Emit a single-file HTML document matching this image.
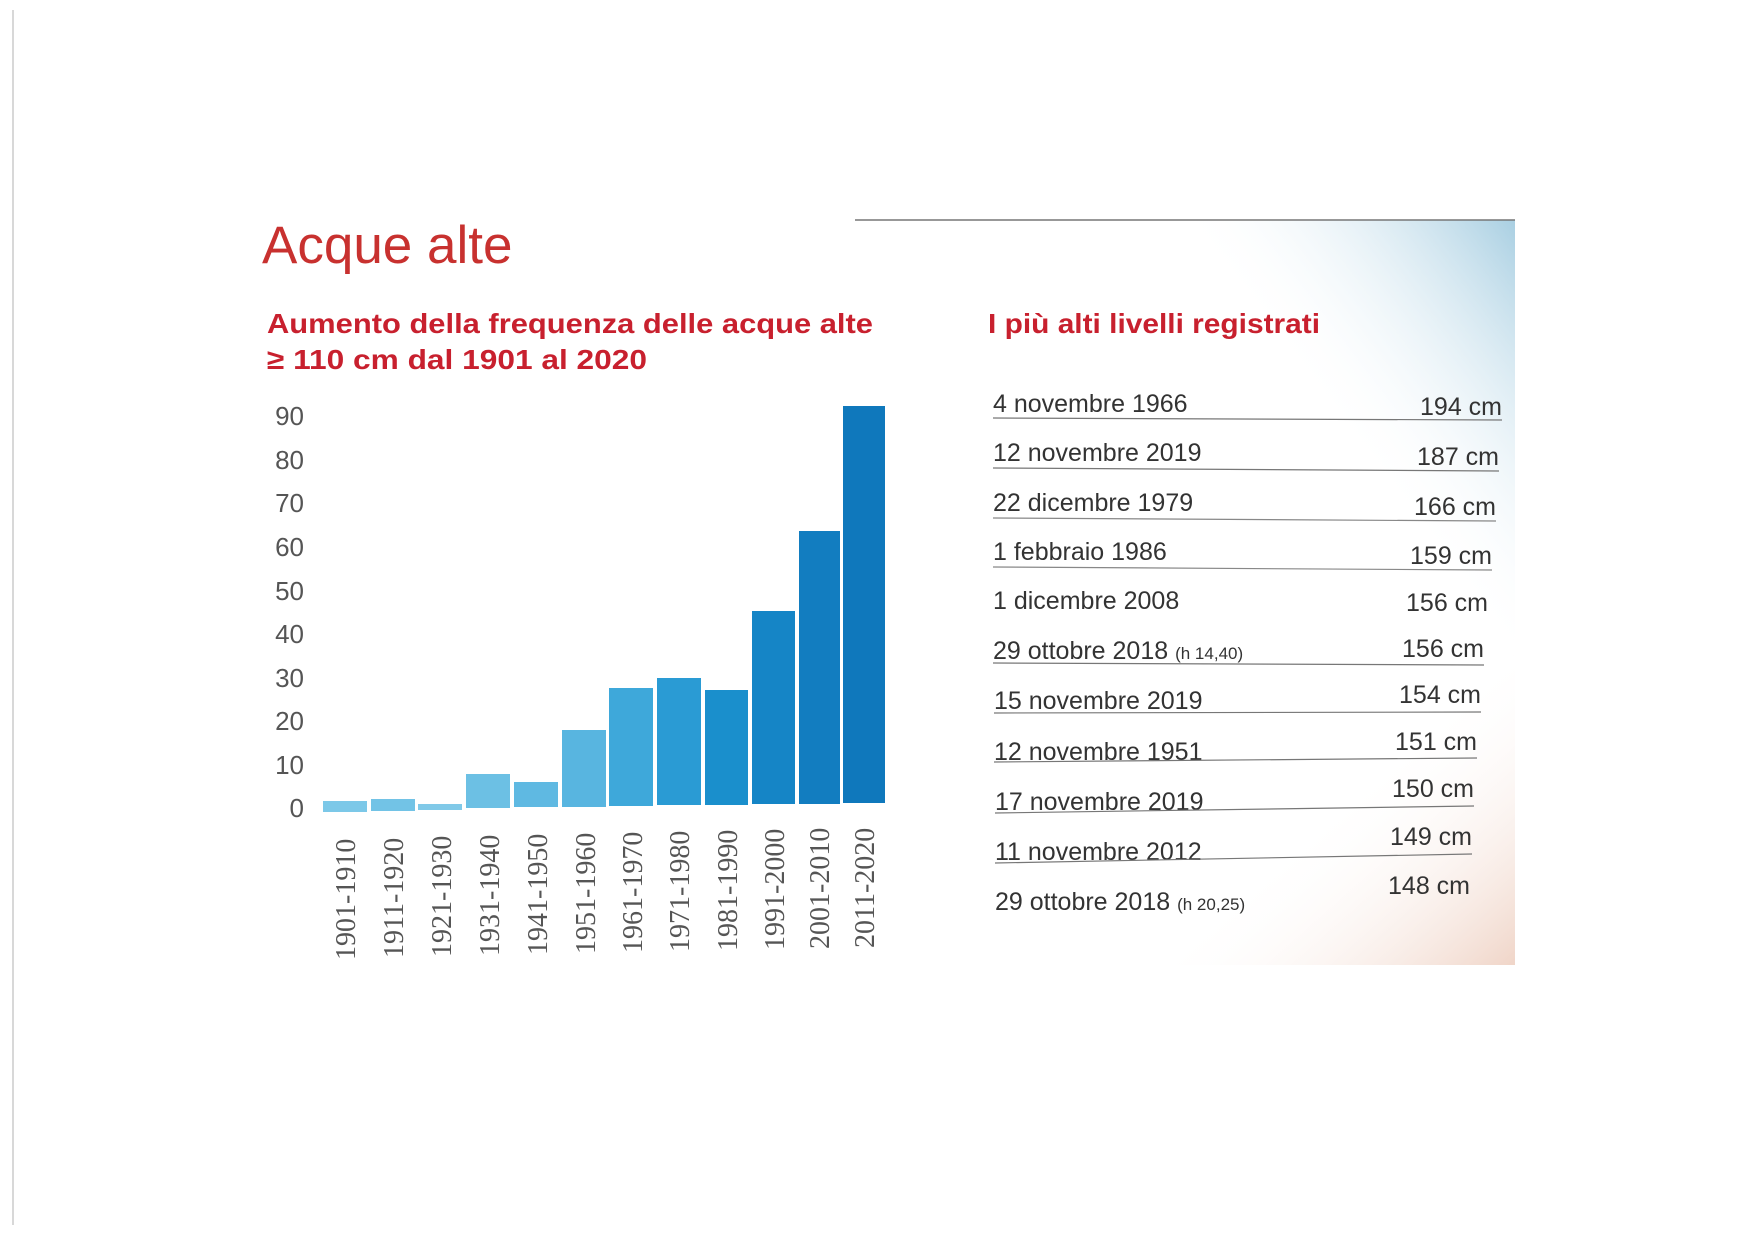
<!DOCTYPE html>
<html><head><meta charset="utf-8"><style>
html,body{margin:0;padding:0;background:#fff;}
svg{display:block;}
</style></head><body>
<svg width="1755" height="1241" viewBox="0 0 1755 1241" xmlns="http://www.w3.org/2000/svg">
<defs>
<linearGradient id="gb" x1="1" y1="0" x2="0.7" y2="0.3">
<stop offset="0" stop-color="#a9cfe2"/><stop offset="1" stop-color="#ffffff" stop-opacity="0"/>
</linearGradient>
<linearGradient id="gp" x1="1" y1="1" x2="0.8" y2="0.7">
<stop offset="0" stop-color="#f0d5c8"/><stop offset="1" stop-color="#ffffff" stop-opacity="0"/>
</linearGradient>
</defs>
<rect width="1755" height="1241" fill="#fff"/>
<line x1="13" y1="10" x2="13" y2="1225" stroke="#d8d8d8" stroke-width="2"/>
<rect x="950" y="220" width="565" height="745" fill="url(#gb)"/>
<rect x="950" y="220" width="565" height="745" fill="url(#gp)"/>
<line x1="855" y1="220" x2="1515" y2="220" stroke="#777" stroke-width="1.5"/>

<text x="262" y="263" font-family="Liberation Sans, sans-serif" font-size="53" fill="#c8312f">Acque alte</text>
<text x="267" y="333" font-family="Liberation Sans, sans-serif" font-weight="bold" font-size="28" fill="#c8202e" textLength="606" lengthAdjust="spacingAndGlyphs">Aumento della frequenza delle acque alte</text>
<text x="267" y="369" font-family="Liberation Sans, sans-serif" font-weight="bold" font-size="28" fill="#c8202e" textLength="380" lengthAdjust="spacingAndGlyphs">≥ 110 cm dal 1901 al 2020</text>

<g font-family="Liberation Sans, sans-serif" font-size="26" fill="#555" text-anchor="end">
<text x="304" y="425">90</text><text x="304" y="469">80</text><text x="304" y="512">70</text>
<text x="304" y="556">60</text><text x="304" y="600">50</text><text x="304" y="643">40</text>
<text x="304" y="687">30</text><text x="304" y="730">20</text><text x="304" y="774">10</text>
<text x="304" y="817">0</text>
</g>

<g>
<rect x="323" y="801" width="44" height="11" fill="#7cc8e8"/>
<rect x="371" y="799" width="44" height="12" fill="#72c3e6"/>
<rect x="418" y="804" width="44" height="6" fill="#80c9e8"/>
<rect x="466" y="774" width="44" height="34" fill="#6cc0e4"/>
<rect x="514" y="782" width="44" height="25" fill="#5fb9e2"/>
<rect x="562" y="730" width="44" height="77" fill="#58b5e0"/>
<rect x="609" y="688" width="44" height="118" fill="#3ea8da"/>
<rect x="657" y="678" width="44" height="127" fill="#2a9bd4"/>
<rect x="705" y="690" width="43" height="115" fill="#1a8fcc"/>
<rect x="752" y="611" width="43" height="193" fill="#1585c6"/>
<rect x="799" y="531" width="41" height="273" fill="#127dc0"/>
<rect x="843" y="406" width="42" height="397" fill="#0f78bc"/>
</g>

<g font-family="Liberation Serif, serif" font-size="28" fill="#555">
<text transform="translate(355,960) rotate(-90)">1901-1910</text>
<text transform="translate(403,958) rotate(-90)">1911-1920</text>
<text transform="translate(451,957) rotate(-90)">1921-1930</text>
<text transform="translate(499,956) rotate(-90)">1931-1940</text>
<text transform="translate(547,955) rotate(-90)">1941-1950</text>
<text transform="translate(595,954) rotate(-90)">1951-1960</text>
<text transform="translate(642,953) rotate(-90)">1961-1970</text>
<text transform="translate(689,952) rotate(-90)">1971-1980</text>
<text transform="translate(737,951) rotate(-90)">1981-1990</text>
<text transform="translate(784,950) rotate(-90)">1991-2000</text>
<text transform="translate(829,949) rotate(-90)">2001-2010</text>
<text transform="translate(874,948) rotate(-90)">2011-2020</text>
</g>

<text x="988" y="333" font-family="Liberation Sans, sans-serif" font-weight="bold" font-size="28" fill="#c8202e" textLength="332" lengthAdjust="spacingAndGlyphs">I più alti livelli registrati</text>

<g font-family="Liberation Sans, sans-serif" font-size="25" fill="#333" stroke-width="1.2">
<text x="993" y="412">4 novembre 1966</text><text x="1502" y="415" text-anchor="end">194 cm</text>
<line x1="993" y1="418" x2="1502" y2="420" stroke="#777"/>
<text x="993" y="461">12 novembre 2019</text><text x="1499" y="465" text-anchor="end">187 cm</text>
<line x1="993" y1="468" x2="1499" y2="471" stroke="#777"/>
<text x="993" y="511">22 dicembre 1979</text><text x="1496" y="515" text-anchor="end">166 cm</text>
<line x1="993" y1="518" x2="1496" y2="521" stroke="#888"/>
<text x="993" y="560">1 febbraio 1986</text><text x="1492" y="564" text-anchor="end">159 cm</text>
<line x1="993" y1="567" x2="1492" y2="570" stroke="#888"/>
<text x="993" y="609">1 dicembre 2008</text><text x="1488" y="611" text-anchor="end">156 cm</text>
<text x="993" y="659">29 ottobre 2018 <tspan font-size="17">(h 14,40)</tspan></text><text x="1484" y="657" text-anchor="end">156 cm</text>
<line x1="993" y1="663" x2="1484" y2="665" stroke="#777"/>
<text x="994" y="709">15 novembre 2019</text><text x="1481" y="703" text-anchor="end">154 cm</text>
<line x1="994" y1="713" x2="1481" y2="712" stroke="#777"/>
<text x="994" y="760">12 novembre 1951</text><text x="1477" y="750" text-anchor="end">151 cm</text>
<line x1="994" y1="762" x2="1477" y2="758" stroke="#777"/>
<text x="995" y="810">17 novembre 2019</text><text x="1474" y="797" text-anchor="end">150 cm</text>
<line x1="995" y1="813" x2="1474" y2="806" stroke="#777"/>
<text x="995" y="860">11 novembre 2012</text><text x="1472" y="845" text-anchor="end">149 cm</text>
<line x1="995" y1="863" x2="1472" y2="854" stroke="#777"/>
<text x="995" y="910">29 ottobre 2018 <tspan font-size="17">(h 20,25)</tspan></text><text x="1470" y="894" text-anchor="end">148 cm</text>
</g>
</svg>
</body></html>
